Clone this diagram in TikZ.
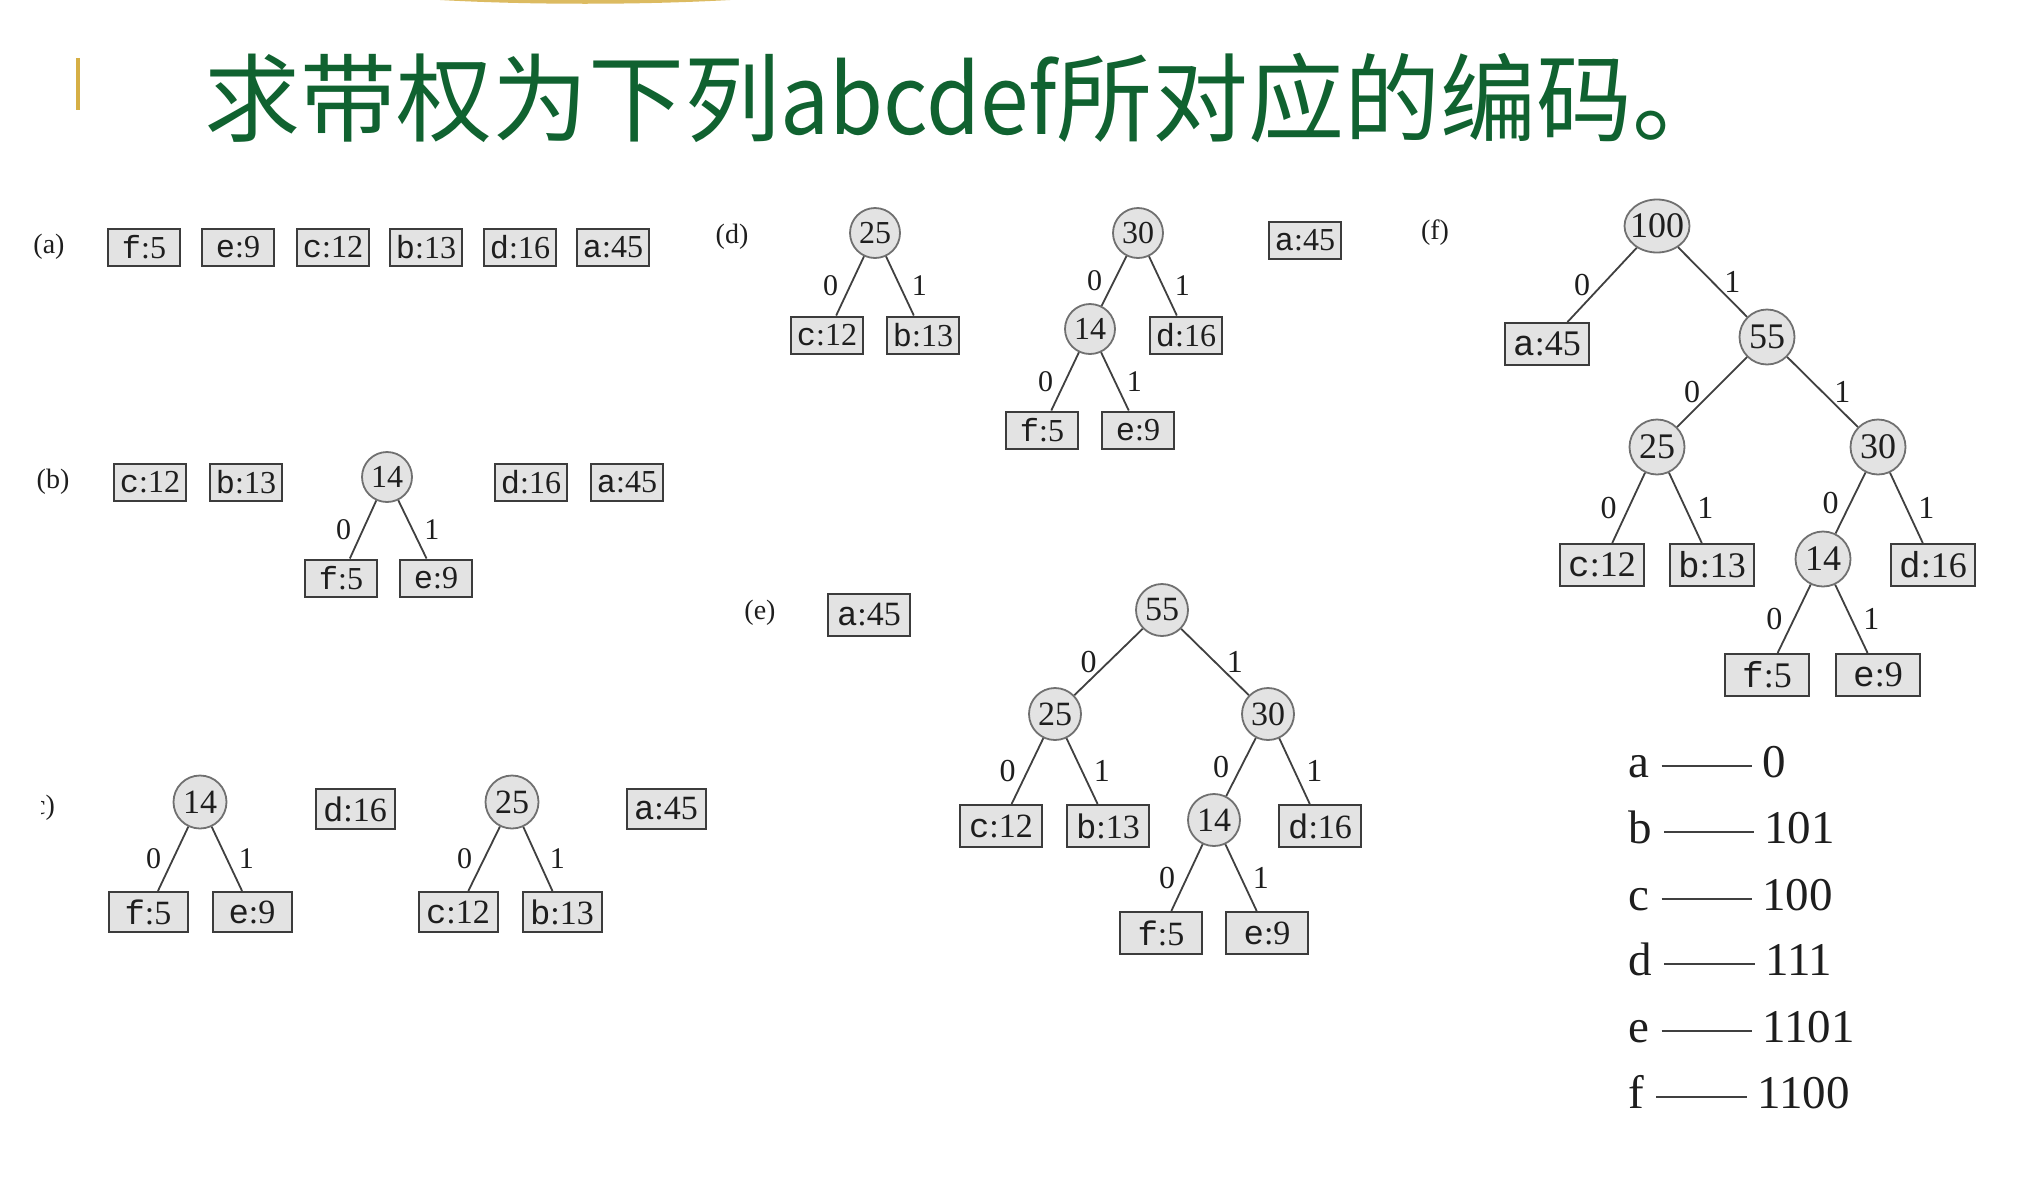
\documentclass[tikz,border=0pt]{standalone}
\usepackage{fontspec}
\setmainfont{Liberation Serif}
\setmonofont{Liberation Mono}
\newfontfamily\cjk{Noto Sans CJK SC}
\usetikzlibrary{shapes.geometric, positioning}
\definecolor{boxfill}{HTML}{E3E3E3}
\definecolor{boxline}{HTML}{3C3C3C}
\definecolor{knotline}{HTML}{707070}
\definecolor{armline}{HTML}{404040}
\definecolor{ink}{HTML}{1E1E1E}
\definecolor{titlegreen}{HTML}{106230}
\definecolor{gold}{HTML}{D6AF45}
\newcommand{\chw}[2]{{\ttfamily #1}:#2}

\begin{document}
\begin{tikzpicture}[x=0.5pt, y=-0.5pt,
    every node/.style={text=ink},
    panel/.style={font=\fontsize{14}{14}\selectfont},
    leaf/.style={draw=boxline, fill=boxfill, line width=1pt, inner sep=0pt, minimum width=36pt, minimum height=18.5pt, font=\fontsize{16}{16}\selectfont},
    knot/.style={circle, draw=knotline, fill=boxfill, line width=0.9pt, inner sep=0pt, minimum size=25pt, font=\fontsize{16}{16}\selectfont},
    arm/.style={draw=armline, line width=0.9pt},
    bit/.style={inner sep=1pt, font=\fontsize{15}{15}\selectfont},
    zero/.style={bit, left=4.5pt},
    one/.style={bit, right=4.5pt},
    code/.style={anchor=base west, inner xsep=5pt, inner ysep=0pt, text height=10.6pt, text depth=0pt, font=\fontsize{23.5}{23.5}\selectfont}]
    \fill[white] (0,0) rectangle (2038,1189);
    \useasboundingbox (0,0) rectangle (2038,1189);

    % title bar
    \fill[gold!85] (440,0) .. controls (530,5) and (640,5) .. (730,0) -- cycle;
    \draw[gold, line width=2pt] (78,58) -- (78,110);
    \node[anchor=base west, inner sep=0pt, text=titlegreen, font=\cjk\fontsize{48}{48}\selectfont] (title) at (204,134) {求带权为下列\scalebox{0.91}[1]{abcdef}所对应的编码。};

    % (a)
    \node[panel] (la) at (49,247) {(a)};
    \node[leaf] (af) at (144,247) {\chw{f}{5}};
    \node[leaf] (ae) at (238,247) {\chw{e}{9}};
    \node[leaf] (ac) at (333,247) {\chw{c}{12}};
    \node[leaf] (ab) at (426,247) {\chw{b}{13}};
    \node[leaf] (ad) at (520,247) {\chw{d}{16}};
    \node[leaf] (aa) at (613,247) {\chw{a}{45}};

    % (b)
    \node[panel] (lb) at (53,482) {(b)};
    \node[leaf] (bc) at (150,482) {\chw{c}{12}};
    \node[leaf] (bb) at (246,482) {\chw{b}{13}};
    \node[knot] (b14) at (387,477) {14};
    \node[leaf] (bd) at (531,482) {\chw{d}{16}};
    \node[leaf] (ba) at (627,482) {\chw{a}{45}};
    \node[leaf] (bf) at (341,578) {\chw{f}{5}};
    \node[leaf] (be) at (436,578) {\chw{e}{9}};
    \draw[arm] (b14) -- node[zero] {0} (bf);
    \draw[arm] (b14) -- node[one] {1} (be);

    % (c)
    \begin{scope}
        \clip (41,780) rectangle (80,840);
        \node[panel, anchor=east] (lc) at (62,808) {(c)};
    \end{scope}
    \begin{scope}[leaf/.append style={minimum width=39.5pt, minimum height=20pt, font=\fontsize{17}{17}\selectfont},
                  knot/.append style={minimum size=26.5pt, font=\fontsize{17}{17}\selectfont}]
        \node[knot] (c14) at (200,802) {14};
        \node[leaf] (cf) at (148,912) {\chw{f}{5}};
        \node[leaf] (ce) at (252,912) {\chw{e}{9}};
        \node[leaf] (cd) at (355,809) {\chw{d}{16}};
        \node[knot] (c25) at (512,802) {25};
        \node[leaf] (cc) at (458,912) {\chw{c}{12}};
        \node[leaf] (cb) at (562,912) {\chw{b}{13}};
        \node[leaf] (ca) at (666,809) {\chw{a}{45}};
        \draw[arm] (c14) -- node[zero] {0} (cf);
        \draw[arm] (c14) -- node[one] {1} (ce);
        \draw[arm] (c25) -- node[zero] {0} (cc);
        \draw[arm] (c25) -- node[one] {1} (cb);
    \end{scope}

    % (d)
    \node[panel] (ld) at (732,237) {(d)};
    \node[knot] (d25) at (875,233) {25};
    \node[leaf] (dc) at (827,335) {\chw{c}{12}};
    \node[leaf] (db) at (923,335) {\chw{b}{13}};
    \node[knot] (d30) at (1138,233) {30};
    \node[knot] (d14) at (1090,329) {14};
    \node[leaf] (dd) at (1186,335) {\chw{d}{16}};
    \node[leaf] (df) at (1042,430) {\chw{f}{5}};
    \node[leaf] (de) at (1138,430) {\chw{e}{9}};
    \node[leaf] (da) at (1305,240) {\chw{a}{45}};
    \draw[arm] (d25) -- node[zero] {0} (dc);
    \draw[arm] (d25) -- node[one] {1} (db);
    \draw[arm] (d30) -- node[zero] {0} (d14);
    \draw[arm] (d30) -- node[one] {1} (dd);
    \draw[arm] (d14) -- node[zero] {0} (df);
    \draw[arm] (d14) -- node[one] {1} (de);

    % (e)
    \node[panel] (le) at (760,613) {(e)};
    \begin{scope}[leaf/.append style={minimum width=41pt, minimum height=21pt, font=\fontsize{17}{17}\selectfont},
                  knot/.append style={minimum size=26pt, font=\fontsize{17}{17}\selectfont},
                  bit/.append style={font=\fontsize{16}{16}\selectfont}]
        \node[leaf] (ea) at (869,615) {\chw{a}{45}};
        \node[knot] (e55) at (1162,610) {55};
        \node[knot] (e25) at (1055,714) {25};
        \node[knot] (e30) at (1268,714) {30};
        \node[leaf] (ec) at (1001,826) {\chw{c}{12}};
        \node[leaf] (eb) at (1108,826) {\chw{b}{13}};
        \node[knot] (e14) at (1214,820) {14};
        \node[leaf] (ed) at (1320,826) {\chw{d}{16}};
        \node[leaf] (ef) at (1161,933) {\chw{f}{5}};
        \node[leaf] (ee) at (1267,933) {\chw{e}{9}};
        \draw[arm] (e55) -- node[zero] {0} (e25);
        \draw[arm] (e55) -- node[one] {1} (e30);
        \draw[arm] (e25) -- node[zero] {0} (ec);
        \draw[arm] (e25) -- node[one] {1} (eb);
        \draw[arm] (e30) -- node[zero] {0} (e14);
        \draw[arm] (e30) -- node[one] {1} (ed);
        \draw[arm] (e14) -- node[zero] {0} (ef);
        \draw[arm] (e14) -- node[one] {1} (ee);
    \end{scope}

    % (f)
    \node[panel] (lf) at (1435,233) {(f)};
    \begin{scope}[leaf/.append style={minimum width=42pt, minimum height=21pt, font=\fontsize{18}{18}\selectfont},
                  knot/.append style={minimum size=27.5pt, font=\fontsize{18}{18}\selectfont},
                  bit/.append style={font=\fontsize{16}{16}\selectfont}]
        \node[knot, ellipse, minimum width=32.5pt, minimum height=26.5pt] (f100) at (1657,226) {\makebox[0pt]{100}};
        \node[leaf] (fa) at (1547,344) {\chw{a}{45}};
        \node[knot] (f55) at (1767,337) {55};
        \node[knot] (f25) at (1657,447) {25};
        \node[knot] (f30) at (1878,447) {30};
        \node[leaf] (fc) at (1602,565) {\chw{c}{12}};
        \node[leaf] (fb) at (1712,565) {\chw{b}{13}};
        \node[knot] (f14) at (1823,559) {14};
        \node[leaf] (fd) at (1933,565) {\chw{d}{16}};
        \node[leaf] (ff) at (1767,675) {\chw{f}{5}};
        \node[leaf] (fe) at (1878,675) {\chw{e}{9}};
        \draw[arm] (f100) -- node[zero] {0} (fa);
        \draw[arm] (f100) -- node[one] {1} (f55);
        \draw[arm] (f55) -- node[zero] {0} (f25);
        \draw[arm] (f55) -- node[one] {1} (f30);
        \draw[arm] (f25) -- node[zero] {0} (fc);
        \draw[arm] (f25) -- node[one] {1} (fb);
        \draw[arm] (f30) -- node[zero] {0} (f14);
        \draw[arm] (f30) -- node[one] {1} (fd);
        \draw[arm] (f14) -- node[zero] {0} (ff);
        \draw[arm] (f14) -- node[one] {1} (fe);
    \end{scope}

    % code table
    \node[code, inner xsep=6pt] (ta) at (1616,777) {a};
    \node[code] (ka) at (1752,777) {0};
    \node[code, inner xsep=6pt] (tb) at (1616,843) {b};
    \node[code] (kb) at (1754,843) {101};
    \node[code, inner xsep=6pt] (tc) at (1616,910) {c};
    \node[code] (kc) at (1752,910) {100};
    \node[code, inner xsep=6pt] (td) at (1616,975) {d};
    \node[code] (kd) at (1755,975) {111};
    \node[code, inner xsep=6pt] (te) at (1616,1042) {e};
    \node[code] (ke) at (1752,1042) {1101};
    \node[code, inner xsep=6pt] (tf) at (1616,1108) {f};
    \node[code] (kf) at (1747,1108) {1100};
    \draw[armline, line width=1pt] (ta.east) -- (ka.west);
    \draw[armline, line width=1pt] (tb.east) -- (kb.west);
    \draw[armline, line width=1pt] (tc.east) -- (kc.west);
    \draw[armline, line width=1pt] (td.east) -- (kd.west);
    \draw[armline, line width=1pt] (te.east) -- (ke.west);
    \draw[armline, line width=1pt] (tf.east) -- (kf.west);
\end{tikzpicture}
\end{document}
